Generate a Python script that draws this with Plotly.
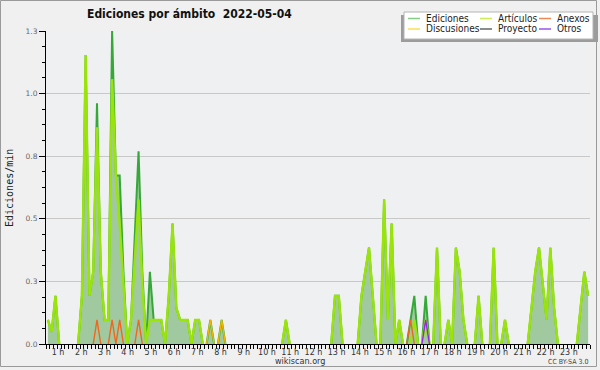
import plotly.graph_objects as go

# ---------------- data (edits per minute, 10-minute bins, 6 bins per hour) ----------------
ediciones = [
    0.1, 0.05, 0.2, 0, 0, 0,        # 0 h
    0, 0, 0, 0.2, 1.2, 0.2,         # 1 h
    0.3, 1.0, 0.3, 0.1, 0.1, 1.3,   # 2 h
    0.7, 0.7, 0.3, 0, 0.1, 0.45,    # 3 h
    0.8, 0.3, 0, 0.3, 0.1, 0.1,     # 4 h
    0.1, 0, 0.2, 0.5, 0.15, 0.1,    # 5 h
    0.1, 0.1, 0, 0.1, 0.1, 0,       # 6 h
    0, 0.1, 0, 0, 0.1, 0,           # 7 h
    0, 0, 0, 0, 0, 0,               # 8 h
    0, 0, 0, 0, 0, 0,               # 9 h
    0, 0, 0, 0.1, 0, 0,             # 10 h
    0, 0, 0, 0, 0, 0,               # 11 h
    0, 0, 0, 0, 0.2, 0.2,           # 12 h
    0, 0, 0, 0, 0, 0.2,             # 13 h
    0.3, 0.4, 0.2, 0, 0, 0.6,       # 14 h
    0.1, 0.5, 0, 0.1, 0, 0,         # 15 h
    0.1, 0.2, 0, 0, 0.2, 0,         # 16 h
    0, 0.4, 0, 0, 0.1, 0,           # 17 h
    0.4, 0.3, 0.1, 0, 0, 0,         # 18 h
    0.2, 0, 0, 0, 0.4, 0,           # 19 h
    0, 0.1, 0, 0, 0, 0,             # 20 h
    0, 0, 0.15, 0.3, 0.4, 0.25,     # 21 h
    0.1, 0.4, 0.15, 0, 0, 0,        # 22 h
    0, 0, 0, 0.15, 0.3, 0.2,        # 23 h
]
articulos = [
    0.1, 0.05, 0.2, 0, 0, 0,
    0, 0, 0, 0.2, 1.2, 0.2,
    0.3, 0.9, 0.3, 0.1, 0.1, 1.1,
    0.7, 0.5, 0.25, 0, 0.1, 0.35,
    0.6, 0.25, 0, 0.1, 0.1, 0.1,
    0.1, 0, 0.2, 0.5, 0.15, 0.1,
    0.1, 0.1, 0, 0.1, 0.1, 0,
    0, 0, 0, 0, 0, 0,
    0, 0, 0, 0, 0, 0,
    0, 0, 0, 0, 0, 0,
    0, 0, 0, 0.1, 0, 0,
    0, 0, 0, 0, 0, 0,
    0, 0, 0, 0, 0.2, 0.2,
    0, 0, 0, 0, 0, 0.2,
    0.3, 0.4, 0.2, 0, 0, 0.6,
    0.1, 0.5, 0, 0.1, 0, 0,
    0, 0.1, 0, 0, 0.1, 0,
    0, 0.4, 0, 0, 0.1, 0,
    0.4, 0.3, 0.1, 0, 0, 0,
    0.2, 0, 0, 0, 0.4, 0,
    0, 0.1, 0, 0, 0, 0,
    0, 0, 0.15, 0.3, 0.4, 0.25,
    0.1, 0.4, 0.15, 0, 0, 0,
    0, 0, 0, 0.15, 0.3, 0.2,
]
anexos = [
    0, 0, 0, 0, 0, 0,
    0, 0, 0, 0, 0, 0,
    0, 0.1, 0, 0, 0, 0.1,
    0, 0.1, 0, 0, 0, 0,
    0.1, 0, 0, 0, 0, 0,
    0, 0, 0, 0, 0, 0,
    0, 0, 0, 0, 0, 0,
    0, 0, 0, 0, 0, 0,
    0, 0, 0, 0, 0, 0,
    0, 0, 0, 0, 0, 0,
    0, 0, 0, 0, 0, 0,
    0, 0, 0, 0, 0, 0,
    0, 0, 0, 0, 0, 0,
    0, 0, 0, 0, 0, 0,
    0, 0, 0, 0, 0, 0,
    0, 0, 0, 0, 0, 0,
    0.1, 0, 0, 0, 0, 0,
    0, 0, 0, 0, 0, 0,
    0, 0, 0, 0, 0, 0,
    0, 0, 0, 0, 0, 0,
    0, 0, 0, 0, 0, 0,
    0, 0, 0, 0, 0, 0,
    0, 0, 0, 0, 0, 0,
    0, 0, 0, 0, 0, 0,
]
discusiones = [
    0, 0, 0, 0, 0, 0,
    0, 0, 0, 0, 0, 0,
    0, 0, 0, 0, 0, 0,
    0, 0, 0, 0, 0, 0,
    0, 0, 0, 0, 0, 0,
    0, 0, 0, 0, 0, 0,
    0, 0, 0, 0, 0, 0,
    0, 0.1, 0, 0, 0.1, 0,
    0, 0, 0, 0, 0, 0,
    0, 0, 0, 0, 0, 0,
    0, 0, 0, 0, 0, 0,
    0, 0, 0, 0, 0, 0,
    0, 0, 0, 0, 0, 0,
    0, 0, 0, 0, 0, 0,
    0, 0, 0, 0, 0, 0,
    0, 0, 0, 0, 0, 0,
    0, 0, 0, 0, 0, 0,
    0, 0, 0, 0, 0, 0,
    0, 0, 0, 0, 0, 0,
    0, 0, 0, 0, 0, 0,
    0, 0, 0, 0, 0, 0,
    0, 0, 0, 0, 0, 0,
    0, 0, 0, 0, 0, 0,
    0, 0, 0, 0, 0, 0,
]
proyecto = [
    0, 0, 0, 0, 0, 0,
    0, 0, 0, 0, 0, 0,
    0, 0, 0, 0, 0, 0,
    0, 0, 0, 0, 0, 0,
    0, 0, 0, 0, 0, 0,
    0, 0, 0, 0, 0, 0,
    0, 0, 0, 0, 0, 0,
    0, 0, 0, 0, 0, 0,
    0, 0, 0, 0, 0, 0,
    0, 0, 0, 0, 0, 0,
    0, 0, 0, 0, 0, 0,
    0, 0, 0, 0, 0, 0,
    0, 0, 0, 0, 0, 0,
    0, 0, 0, 0, 0, 0,
    0, 0, 0, 0, 0, 0,
    0, 0, 0, 0, 0, 0,
    0, 0, 0, 0, 0, 0,
    0, 0, 0, 0, 0, 0,
    0, 0, 0, 0, 0, 0,
    0, 0, 0, 0, 0, 0,
    0, 0, 0, 0, 0, 0,
    0, 0, 0, 0, 0, 0,
    0, 0, 0, 0, 0, 0,
    0, 0, 0, 0, 0, 0,
]
otros = [
    0, 0, 0, 0, 0, 0,
    0, 0, 0, 0, 0, 0,
    0, 0, 0, 0, 0, 0,
    0, 0, 0, 0, 0, 0,
    0, 0, 0, 0, 0, 0,
    0, 0, 0, 0, 0, 0,
    0, 0, 0, 0, 0, 0,
    0, 0, 0, 0, 0, 0,
    0, 0, 0, 0, 0, 0,
    0, 0, 0, 0, 0, 0,
    0, 0, 0, 0, 0, 0,
    0, 0, 0, 0, 0, 0,
    0, 0, 0, 0, 0, 0,
    0, 0, 0, 0, 0, 0,
    0, 0, 0, 0, 0, 0,
    0, 0, 0, 0, 0, 0,
    0, 0, 0, 0, 0.1, 0,
    0, 0, 0, 0, 0, 0,
    0, 0, 0, 0, 0, 0,
    0, 0, 0, 0, 0, 0,
    0, 0, 0, 0, 0, 0,
    0, 0, 0, 0, 0, 0,
    0, 0, 0, 0, 0, 0,
    0, 0, 0, 0, 0, 0,
]

hour_labels = ["1 h", "2 h", "3 h", "4 h", "5 h", "6 h", "7 h", "8 h", "9 h", "10 h",
               "11 h", "12 h", "13 h", "14 h", "15 h", "16 h", "17 h", "18 h", "19 h",
               "20 h", "21 h", "22 h", "23 h"]
y_tick_values = [0, 0.26, 0.52, 0.78, 1.04, 1.3]
y_tick_labels = ["0.0", "0.3", "0.5", "0.8", "1.0", "1.3"]

title_text = "Ediciones por ámbito  2022-05-04"
y_title = "Ediciones/min"

# ---------------- helpers ----------------
BIN_H = 10 / 60.0
hours = [(i + 0.5) * BIN_H for i in range(len(ediciones))]

L, R, T, B = 46, 590, 31, 344   # plot area in pixels


def X(px):
    return (px - L) / (R - L)


def Y(py):
    return (B - py) / (B - T)


def segments(xs, ys):
    """Keep only segments touching a non-zero value (no line along the baseline)."""
    ox, oy = [], []
    last = None
    for i in range(len(ys) - 1):
        if ys[i] or ys[i + 1]:
            if last != i:
                if ox:
                    ox.append(None)
                    oy.append(None)
                ox.append(xs[i])
                oy.append(ys[i])
            ox.append(xs[i + 1])
            oy.append(ys[i + 1])
            last = i + 1
    return ox, oy


series = [
    ("Ediciones", ediciones, "#35a838", 2.0, "#88cc88"),
    ("Artículos", articulos, "#9be40a", 2.4, "#ccee55"),
    ("Anexos", anexos, "#f0661e", 1.4, "#ee8855"),
    ("Discusiones", discusiones, "#f2b800", 1.4, "#ffdd55"),
    ("Proyecto", proyecto, "#555555", 1.4, "#666666"),
    ("Otros", otros, "#9628e6", 1.4, "#9955ee"),
]

fig = go.Figure()
fig.add_trace(go.Scatter(x=hours, y=ediciones, mode="lines", fill="tozeroy",
                         fillcolor="#a0c9a0", line=dict(width=0, color="#a0c9a0"),
                         hoverinfo="skip", showlegend=False))
for name, vals, col, w, _ in series:
    sx, sy = segments(hours, vals)
    if not sx:
        continue
    fig.add_trace(go.Scatter(x=sx, y=sy, mode="lines", name=name,
                             line=dict(color=col, width=w), connectgaps=False,
                             showlegend=False))

# ---------------- layout ----------------
label_pos = [-0.495 + 1.0245 * (k + 1) for k in range(len(hour_labels))]

fig.update_layout(
    width=600, height=370,
    margin=dict(l=L, r=600 - R, t=T, b=370 - B, pad=0),
    paper_bgcolor="#f0f0f0", plot_bgcolor="#eef0f1",
    showlegend=False,
    xaxis=dict(range=[0, 24], showgrid=False, zeroline=False,
               showline=True, linecolor="#000", linewidth=1,
               tickmode="array", tickvals=label_pos, ticktext=hour_labels,
               ticks="outside", ticklen=0, tickcolor="#000",
               tickfont=dict(family="DejaVu Sans", size=8, color="#333"),
               minor=dict(tickmode="linear", tick0=0, dtick=BIN_H, ticks="outside",
                          ticklen=4, tickcolor="#000", tickwidth=1, showgrid=False)),
    yaxis=dict(range=[0, 1.3], showgrid=True, gridcolor="#c8c8c8", gridwidth=1,
               zeroline=False, showline=True, linecolor="#000", linewidth=1,
               tickmode="array", tickvals=y_tick_values, ticktext=y_tick_labels,
               ticks="outside", ticklen=6, tickcolor="#000",
               tickfont=dict(family="DejaVu Sans", size=7.5, color="#666"),
               minor=dict(tickmode="linear", tick0=0, dtick=0.065, ticks="outside",
                          ticklen=3, tickcolor="#000", tickwidth=1, showgrid=False)),
)

shapes = []
annotations = []

# image frame
shapes.append(dict(type="rect", xref="paper", yref="paper",
                   x0=X(0.5), x1=X(596.5), y0=Y(366.5), y1=Y(0.5),
                   line=dict(color="#9a9a9a", width=1)))

# legend box with shadow
shapes.append(dict(type="rect", xref="paper", yref="paper",
                   x0=X(401), x1=X(598), y0=Y(42), y1=Y(15),
                   line=dict(width=0), fillcolor="#9c9c9c"))
shapes.append(dict(type="rect", xref="paper", yref="paper",
                   x0=X(404), x1=X(593), y0=Y(39), y1=Y(12),
                   line=dict(color="#b4b4b4", width=1), fillcolor="#ffffff"))

col_x = [408, 480, 539]
row_y = [18.5, 29]
for k, (name, _, _, _, lcol) in enumerate(series):
    cx = col_x[k % 3]
    ry = row_y[k // 3]
    shapes.append(dict(type="line", xref="paper", yref="paper",
                       x0=X(cx), x1=X(cx + 12), y0=Y(ry), y1=Y(ry),
                       line=dict(color=lcol, width=1.5)))
    annotations.append(dict(xref="paper", yref="paper", x=X(cx + 16), y=Y(ry),
                            xanchor="left", yanchor="middle", showarrow=False,
                            text=name,
                            font=dict(family="DejaVu Sans Condensed, DejaVu Sans",
                                      size=10, color="#222")))

# title
annotations.append(dict(xref="paper", yref="paper", x=X(85), y=Y(14),
                        xanchor="left", yanchor="middle", showarrow=False,
                        text="<b>" + title_text + "</b>",
                        font=dict(family="DejaVu Sans Condensed, DejaVu Sans",
                                  size=12, color="#111")))
# y axis title
annotations.append(dict(xref="paper", yref="paper", x=X(9), y=Y(188),
                        xanchor="center", yanchor="middle", showarrow=False,
                        textangle=-90, text=y_title,
                        font=dict(family="DejaVu Sans Mono", size=10, color="#222")))
# footer
annotations.append(dict(xref="paper", yref="paper", x=X(300), y=Y(361),
                        xanchor="center", yanchor="middle", showarrow=False,
                        text="wikiscan.org",
                        font=dict(family="DejaVu Sans Condensed, DejaVu Sans",
                                  size=9, color="#333")))
annotations.append(dict(xref="paper", yref="paper", x=X(590), y=Y(362),
                        xanchor="right", yanchor="middle", showarrow=False,
                        text="CC BY-SA 3.0",
                        font=dict(family="DejaVu Sans Condensed, DejaVu Sans",
                                  size=7, color="#444")))

fig.update_layout(shapes=shapes, annotations=annotations)

fig.write_html("out.html", config={"displayModeBar": False},
               post_script="document.body.style.margin='0';")
